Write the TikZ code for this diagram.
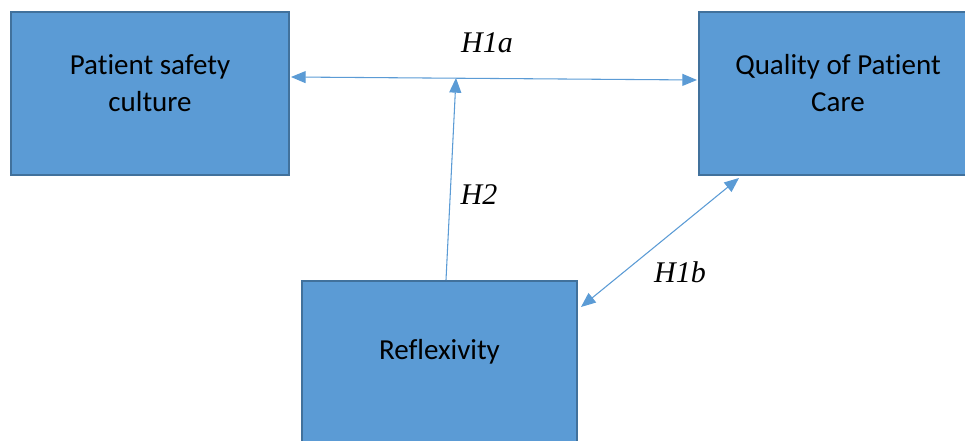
\documentclass[tikz,border=0pt]{standalone}
\usepackage{fontspec}
\setmainfont{Carlito}[Ligatures=NoCommon,Contextuals=NoAlternate]
\newfontfamily\hypfont{Liberation Serif}
\usetikzlibrary{arrows.meta,calc}
\definecolor{boxfill}{HTML}{5B9BD5}
\definecolor{boxline}{HTML}{41719C}

\begin{document}
\begin{tikzpicture}[x=0.75pt,y=-0.75pt,
    construct/.style={draw=boxline,fill=boxfill,line width=1.5pt,
      minimum width=208.5pt,minimum height=122.25pt,inner sep=0pt},
    boxtext/.style={align=center,font=\fontsize{21.75}{27.75}\selectfont,yshift=8pt},
    hyp/.style={font=\hypfont\itshape\fontsize{22.5}{27}\selectfont},
    link/.style={draw=boxfill,line width=0.8pt},
    >={Triangle[length=11pt,width=9pt]}]
  \useasboundingbox (0,0) rectangle (965,441);
                        \node[construct,label={[boxtext]center:Patient safety\\culture}] (safety) at (150,93.5) {};
                        \node[construct,label={[boxtext]center:Quality of Patient\\Care}] (quality) at (838,93.5) {};
                        \node[construct,minimum width=206.25pt,label={[boxtext]center:Reflexivity}] (reflex) at (439.5,362.5) {};
                        \coordinate (meet) at (456,78);
                        \draw[link,<->] ($(safety.east)+(1,-16.5)$) to ($(quality.west)+(-1,-13.5)$);
                        \draw[link,->] ($(reflex.north)+(6.5,0)$) to (meet);
                        \draw[link,<->] ($(reflex.north east)+(3,27)$) to ($(quality.south west)+(41,2)$);
                        \node[hyp] (h1a) at (487,43) {H1a};
                        \node[hyp] (h2) at (479,195) {H2};
                        \node[hyp] (h1b) at (680,272) {H1b};
                  \end{tikzpicture}
\end{document}
